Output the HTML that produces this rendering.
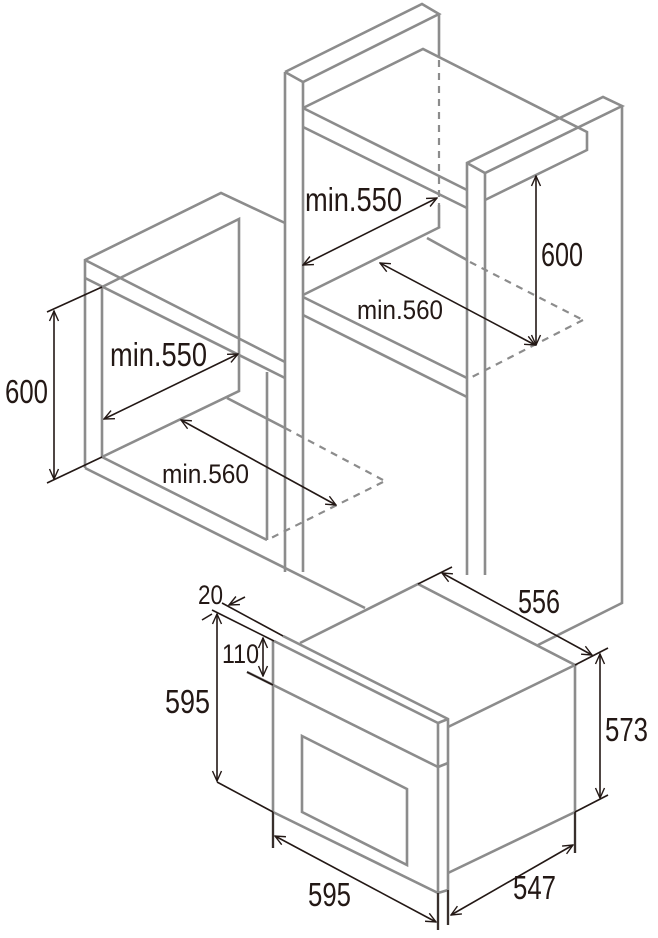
<!DOCTYPE html>
<html><head><meta charset="utf-8"><style>
html,body{margin:0;padding:0;background:#fff}
svg{display:block}
text{font-family:"Liberation Sans Narrow","Liberation Sans",sans-serif;fill:#231815}
</style></head><body>
<svg width="658" height="938" viewBox="0 0 658 938" xmlns="http://www.w3.org/2000/svg">
<defs>
<marker id="a" viewBox="0 0 12 12" refX="11" refY="6" markerWidth="12" markerHeight="12" markerUnits="userSpaceOnUse" orient="auto-start-reverse">
<polyline points="1,1.5 11,6 1,10.5" fill="none" stroke="#231815" stroke-width="1.4"/>
</marker>
</defs>
<g fill="none" stroke="#8c8c8c" stroke-width="2.6" stroke-linejoin="miter">
<polyline points="85,468 85,260 221,193 285,223"/>
<line x1="85" y1="260" x2="285" y2="362"/>
<line x1="85" y1="278" x2="285" y2="378"/>
<polyline points="102,457 102,287 239,219 239,391 102,457"/>
<line x1="85" y1="468" x2="365" y2="608"/>
<line x1="102" y1="457" x2="267" y2="540"/>
<line x1="267" y1="372" x2="267" y2="540"/>
<line x1="227" y1="398" x2="285" y2="428"/>
<line x1="285" y1="72" x2="285" y2="572"/>
<line x1="303" y1="82" x2="303" y2="572"/>
<polyline points="285,72 422,4 439,14 303,82 285,72"/>
<line x1="439" y1="14" x2="439" y2="58"/>
<polyline points="303,108 423,49 587,132 587,150 485,200"/>
<line x1="303" y1="108" x2="467" y2="190"/>
<line x1="303" y1="127" x2="467" y2="208"/>
<line x1="439" y1="205" x2="439" y2="228"/>
<line x1="303" y1="295" x2="440" y2="227"/>
<line x1="303" y1="297" x2="467" y2="378"/>
<line x1="303" y1="315" x2="467" y2="397"/>
<line x1="427" y1="238" x2="467" y2="260"/>
<polyline points="467,575 467,163 603,97 622,106 485,173 467,163"/>
<line x1="485" y1="173" x2="485" y2="575"/>
<polyline points="622,106 622,603 538,645"/>
<polyline points="283,636 448,719 448,925"/>
<polyline points="274,641 438,723 438,930"/>
<line x1="438" y1="723" x2="448" y2="719"/>
<line x1="273" y1="641" x2="273" y2="848"/>
<line x1="247" y1="672" x2="438" y2="767"/>
<line x1="438" y1="767" x2="448" y2="763"/>
<line x1="273" y1="812" x2="438" y2="893"/>
<line x1="438" y1="893" x2="448" y2="890"/>
<polygon points="302,736 407,789 407,865 302,812"/>
<polyline points="300,643 418,584 575,665 448,727"/>
<polyline points="575,665 575,853"/>
<line x1="448" y1="873" x2="575" y2="812"/>
</g>
<g fill="none" stroke="#8c8c8c" stroke-width="2.2" stroke-dasharray="7,6">
<line x1="285" y1="428" x2="383" y2="480"/>
<line x1="383" y1="482" x2="267" y2="540"/>
<line x1="439" y1="60" x2="439" y2="205"/>
<line x1="470" y1="262" x2="583" y2="320"/>
<line x1="583" y1="320" x2="470" y2="378"/>
</g>
<g fill="none" stroke="#231815" stroke-width="1.6">
<line x1="47" y1="312" x2="102" y2="287"/>
<line x1="47" y1="483" x2="102" y2="457"/>
<line x1="54" y1="311" x2="54" y2="479" marker-start="url(#a)" marker-end="url(#a)"/>
<line x1="104" y1="419" x2="238" y2="354" marker-start="url(#a)" marker-end="url(#a)"/>
<line x1="181" y1="420" x2="336" y2="505" marker-start="url(#a)" marker-end="url(#a)"/>
<line x1="303" y1="265" x2="437" y2="198" marker-start="url(#a)" marker-end="url(#a)"/>
<line x1="380" y1="263" x2="535" y2="345" marker-start="url(#a)" marker-end="url(#a)"/>
<line x1="536" y1="176" x2="536" y2="345" marker-start="url(#a)" marker-end="url(#a)"/>
<line x1="222" y1="603" x2="283" y2="636"/>
<line x1="212" y1="610" x2="274" y2="641"/>
<line x1="245" y1="597" x2="229" y2="605" marker-end="url(#a)"/>
<line x1="202" y1="620" x2="212" y2="614"/>
<line x1="217" y1="614" x2="217" y2="781" marker-start="url(#a)" marker-end="url(#a)"/>
<line x1="217" y1="782" x2="273" y2="812"/>
<line x1="263" y1="638" x2="263" y2="676" marker-start="url(#a)" marker-end="url(#a)"/>
<line x1="247" y1="672" x2="273" y2="685"/>
<line x1="273" y1="812" x2="273" y2="848"/>
<line x1="275" y1="836" x2="436" y2="922" marker-start="url(#a)" marker-end="url(#a)"/>
<line x1="438" y1="893" x2="438" y2="930"/>
<line x1="448" y1="890" x2="448" y2="925"/>
<line x1="451" y1="915" x2="573" y2="845" marker-start="url(#a)" marker-end="url(#a)"/>
<line x1="575" y1="812" x2="575" y2="853"/>
<line x1="418" y1="584" x2="452" y2="567"/>
<line x1="575" y1="665" x2="608" y2="648"/>
<line x1="442" y1="573" x2="592" y2="655" marker-start="url(#a)" marker-end="url(#a)"/>
<line x1="600" y1="654" x2="600" y2="798" marker-start="url(#a)" marker-end="url(#a)"/>
<line x1="575" y1="812" x2="608" y2="795"/>
</g>
<g font-size="33">
<text x="5" y="403" textLength="43" lengthAdjust="spacingAndGlyphs">600</text>
<text x="110" y="366" textLength="97" lengthAdjust="spacingAndGlyphs">min.550</text>
<text x="305" y="211" textLength="97" lengthAdjust="spacingAndGlyphs">min.550</text>
<text x="541" y="266" textLength="42" lengthAdjust="spacingAndGlyphs">600</text>
<text x="165" y="713" textLength="45" lengthAdjust="spacingAndGlyphs">595</text>
<text x="518" y="613" textLength="42" lengthAdjust="spacingAndGlyphs">556</text>
<text x="605" y="741" textLength="43" lengthAdjust="spacingAndGlyphs">573</text>
<text x="513" y="899" textLength="43" lengthAdjust="spacingAndGlyphs">547</text>
<text x="308" y="906" textLength="43" lengthAdjust="spacingAndGlyphs">595</text>
</g>
<g font-size="27">
<text x="162" y="483" textLength="87" lengthAdjust="spacingAndGlyphs">min.560</text>
<text x="357" y="319" textLength="86" lengthAdjust="spacingAndGlyphs">min.560</text>
<text x="198" y="604" textLength="25" lengthAdjust="spacingAndGlyphs">20</text>
<text x="222" y="663" textLength="37" lengthAdjust="spacingAndGlyphs">110</text>
</g>
</svg>
</body></html>
